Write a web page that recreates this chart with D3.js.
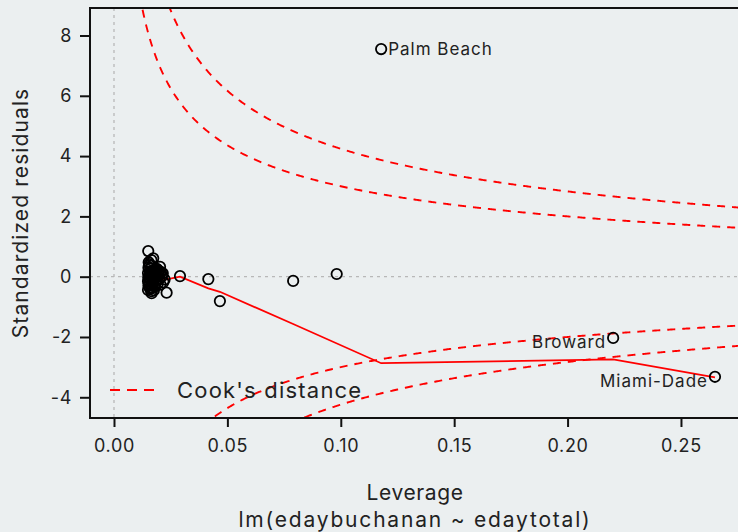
<!DOCTYPE html>
<html>
<head>
<meta charset="utf-8">
<script src="https://cdn.jsdelivr.net/npm/d3@7/dist/d3.min.js"></script>
<style>
  html, body { margin: 0; padding: 0; background: #EBEFF0; }
  svg { display: block; font-family: Inter, "Noto Sans", sans-serif; }
</style>
</head>
<body>
<svg id="chart" width="738" height="532"></svg>
<script>
// Residuals vs leverage for lm(edaybuchanan ~ edaytotal), one point per county
const leverage = [
  0.0151, 0.0173, 0.0165, 0.0203, 0.0190, 0.0232, 0.0166, 0.0150, 0.0158, 0.0152,
  0.0155, 0.0160, 0.0163, 0.0168, 0.0170, 0.0175, 0.0178, 0.0182, 0.0185, 0.0188,
  0.0195, 0.0200, 0.0207, 0.0212, 0.0218, 0.0152, 0.0154, 0.0157, 0.0159, 0.0161,
  0.0164, 0.0167, 0.0171, 0.0174, 0.0177, 0.0180, 0.0184, 0.0187, 0.0192, 0.0197,
  0.0150, 0.0153, 0.0156, 0.0162, 0.0169, 0.0172, 0.0176, 0.0181, 0.0186, 0.0193,
  0.0199, 0.0205, 0.0215, 0.0223, 0.0151, 0.0158, 0.0165, 0.0179, 0.0150,
  0.0291, 0.0416, 0.0467, 0.0790, 0.0982, 0.1178, 0.2201, 0.2650
];
const stdResid = [
  0.85, 0.61, 0.55, 0.33, 0.25, -0.53, -0.55, -0.44, -0.35, -0.30,
  0.42, 0.18, -0.12, 0.05, -0.20, 0.10, -0.05, 0.22, 0.08, -0.15,
  0.12, -0.08, 0.15, 0.02, -0.18, 0.30, -0.22, 0.06, -0.40, 0.14,
  -0.28, 0.36, -0.10, 0.20, 0.04, -0.32, -0.02, 0.26, -0.24, 0.07,
  -0.15, 0.48, -0.06, 0.28, -0.38, 0.09, -0.45, 0.16, -0.12, 0.03,
  0.19, -0.26, 0.11, -0.09, -0.02, 0.38, -0.48, 0.00, 0.12,
  0.02, -0.08, -0.81, -0.14, 0.09, 7.55, -2.03, -3.32
];
// Named counties (index into the arrays above) and label side
const labelNames = ["Palm Beach", "Broward", "Miami-Dade"];
const labelIndex = [64, 65, 66];
const labelSide = ["right", "left", "left"];

// Smoothed trend of residuals against leverage
const smoothLev = [0.0150, 0.0232, 0.0291, 0.0416, 0.0467, 0.0790, 0.1178, 0.2201, 0.2650];
const smoothFit = [0.00, -0.09, 0.00, -0.385, -0.50, -1.57, -2.87, -2.74, -3.34];

// Cook's distance contour levels; p = number of model coefficients
const cookLevels = [0.5, 1];
const nCoef = 2;

const xTicks = [0, 0.05, 0.10, 0.15, 0.20, 0.25];
const yTicks = [-4, -2, 0, 2, 4, 6, 8];

const svg = d3.select("#chart");
const L = 90, R = 740, T = 8, B = 418;
const ink = "#222";

const x = d3.scaleLinear().domain([-0.01058, 0.27603]).range([L, R]);
const y = d3.scaleLinear().domain([-4.687, 8.912]).range([B, T]);

svg.append("defs").append("clipPath").attr("id", "plotClip")
  .append("rect").attr("x", L).attr("y", T).attr("width", R - L).attr("height", B - T);

const plot = svg.append("g").attr("clip-path", "url(#plotClip)");

// reference lines at zero
plot.append("line").attr("x1", x(0)).attr("x2", x(0)).attr("y1", T).attr("y2", B)
  .attr("stroke", "#b8b8b8").attr("stroke-width", 1.3).attr("stroke-dasharray", "3,4");
plot.append("line").attr("x1", L).attr("x2", R).attr("y1", y(0)).attr("y2", y(0))
  .attr("stroke", "#b8b8b8").attr("stroke-width", 1.3).attr("stroke-dasharray", "3,4");

// Cook's distance contours
const hGrid = d3.range(0.004, 0.30, 0.0005);
cookLevels.forEach(level => {
  [1, -1].forEach(sign => {
    const line = d3.line()
      .x(h => x(h))
      .y(h => y(sign * Math.sqrt(level * nCoef * (1 - h) / h)));
    plot.append("path").datum(hGrid).attr("d", line)
      .attr("fill", "none").attr("stroke", "#ff0000").attr("stroke-width", 1.9)
      .attr("stroke-dasharray", "8,7");
  });
});

// smoother
const smooth = smoothLev.map((v, i) => [v, smoothFit[i]]);
plot.append("path").datum(smooth)
  .attr("d", d3.line().x(d => x(d[0])).y(d => y(d[1])))
  .attr("fill", "none").attr("stroke", "#ff0000").attr("stroke-width", 1.8);

// points
plot.selectAll("circle.pt").data(leverage).join("circle").attr("class", "pt")
  .attr("cx", d => x(d)).attr("cy", (d, i) => y(stdResid[i])).attr("r", 5.2)
  .attr("fill", "none").attr("stroke", "#000").attr("stroke-width", 1.8);

// point labels
labelIndex.forEach((idx, k) => {
  const right = labelSide[k] === "right";
  svg.append("text")
    .attr("x", x(leverage[idx]) + (right ? 7 : -7))
    .attr("y", y(stdResid[idx]) + (right ? 0 : 4))
    .attr("dy", "0.35em")
    .attr("text-anchor", right ? "start" : "end")
    .attr("font-size", 17).attr("letter-spacing", 1).attr("fill", ink)
    .text(labelNames[k]);
});

// axes frame
svg.append("rect").attr("x", L).attr("y", T).attr("width", R - L).attr("height", B - T)
  .attr("fill", "none").attr("stroke", "#111").attr("stroke-width", 2);

const xAxis = svg.append("g").attr("transform", `translate(0,${B})`)
  .call(d3.axisBottom(x).tickValues(xTicks).tickFormat(d3.format(".2f")).tickSize(9).tickPadding(12));
const yAxis = svg.append("g").attr("transform", `translate(${L},0)`)
  .call(d3.axisLeft(y).tickValues(yTicks).tickFormat(d => String(d)).tickSize(10).tickPadding(8));
[xAxis, yAxis].forEach(a => {
  a.select(".domain").remove();
  a.selectAll(".tick line").attr("stroke", "#111").attr("stroke-width", 2);
  a.selectAll(".tick text").attr("font-size", 18).attr("letter-spacing", 0.7).attr("fill", ink)
    .attr("font-family", "Inter, 'Noto Sans', sans-serif");
});

// legend
svg.append("line").attr("x1", 110).attr("x2", 155).attr("y1", 390).attr("y2", 390)
  .attr("stroke", "#ff0000").attr("stroke-width", 1.9).attr("stroke-dasharray", "10,7");
svg.append("text").attr("x", 177).attr("y", 390).attr("dy", "0.35em")
  .attr("font-size", 22).attr("letter-spacing", 1.2).attr("fill", ink).text("Cook's distance");

// axis titles
svg.append("text").attr("x", (L + R) / 2).attr("y", 500).attr("text-anchor", "middle")
  .attr("font-size", 21).attr("letter-spacing", 0.6).attr("fill", ink).text("Leverage");
svg.append("text").attr("x", (L + R) / 2).attr("y", 527).attr("text-anchor", "middle")
  .attr("font-size", 21).attr("letter-spacing", 1.8).attr("fill", ink).text("lm(edaybuchanan ~ edaytotal)");
svg.append("text").attr("transform", `translate(28,${(T + B) / 2}) rotate(-90)`)
  .attr("text-anchor", "middle").attr("font-size", 21).attr("letter-spacing", 1.1).attr("fill", ink)
  .text("Standardized residuals");
</script>
</body>
</html>
